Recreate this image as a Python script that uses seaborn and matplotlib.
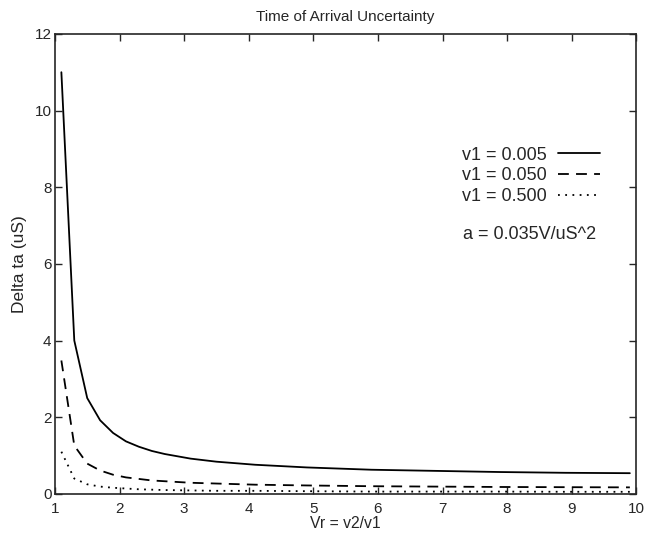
import matplotlib
matplotlib.use("Agg")
import matplotlib.pyplot as plt
import seaborn as sns
import pandas as pd

vr = [1.1, 1.3, 1.5, 1.7, 1.9, 2.1, 2.3, 2.5, 2.7, 3.1, 3.5, 4.1, 4.9, 5.9, 6.9, 7.9, 8.9, 9.9]
v1_0005 = [11.0, 4.0, 2.5, 1.92, 1.59, 1.37, 1.23, 1.12, 1.04, 0.92, 0.84, 0.76, 0.69, 0.63, 0.60, 0.57, 0.55, 0.54]
v1_0050 = [3.48, 1.26, 0.79, 0.61, 0.50, 0.43, 0.39, 0.35, 0.33, 0.29, 0.27, 0.24, 0.22, 0.20, 0.19, 0.18, 0.175, 0.17]
v1_0500 = [1.10, 0.40, 0.25, 0.19, 0.16, 0.14, 0.12, 0.11, 0.10, 0.09, 0.08, 0.08, 0.07, 0.06, 0.06, 0.06, 0.055, 0.054]
labels = ["v1 = 0.005", "v1 = 0.050", "v1 = 0.500"]
xticks = [1, 2, 3, 4, 5, 6, 7, 8, 9, 10]
yticks = [0, 2, 4, 6, 8, 10, 12]

sns.set_style("ticks")
plt.rcParams['font.family'] = ['Liberation Sans', 'DejaVu Sans']

df = pd.concat([
    pd.DataFrame({"Vr": vr, "dt": v, "series": lab})
    for v, lab in zip([v1_0005, v1_0050, v1_0500], labels)
])

fig = plt.figure(figsize=(6.46, 5.38), dpi=100)
ax = fig.add_axes([0.085, 0.082, 0.900, 0.855])

dashes = {labels[0]: "", labels[1]: (6, 4), labels[2]: (1, 3)}
sns.lineplot(data=df, x="Vr", y="dt", hue="series", style="series",
             palette=["black"] * 3, dashes=dashes, linewidth=1.3, ax=ax)

ax.set_xlim(1, 10)
ax.set_ylim(0, 12)
ax.set_xticks(xticks)
ax.set_yticks(yticks)
ax.tick_params(direction="in", top=True, right=True, length=5, width=1, labelsize=11)
ax.tick_params(axis="x", pad=6)
ax.tick_params(axis="y", pad=2.5)
for s in ax.spines.values():
    s.set_visible(True)
    s.set_linewidth(1.2)
ax.set_xlabel("Vr = v2/v1", fontsize=11.3, labelpad=0)
ax.set_ylabel("Delta ta (uS)", fontsize=12.5, labelpad=5)
ax.set_title("Time of Arrival Uncertainty", fontsize=11, pad=9)

leg = ax.legend(frameon=False, markerfirst=False, loc="upper left",
                bbox_to_anchor=(0.673, 0.79), fontsize=13, handlelength=2.3,
                labelspacing=0.2, handletextpad=0.6)
ax.text(0.702, 0.564, "a = 0.035V/uS^2", transform=ax.transAxes, fontsize=13,
        va="center", ha="left")

fig.savefig("out.png", dpi=100)
